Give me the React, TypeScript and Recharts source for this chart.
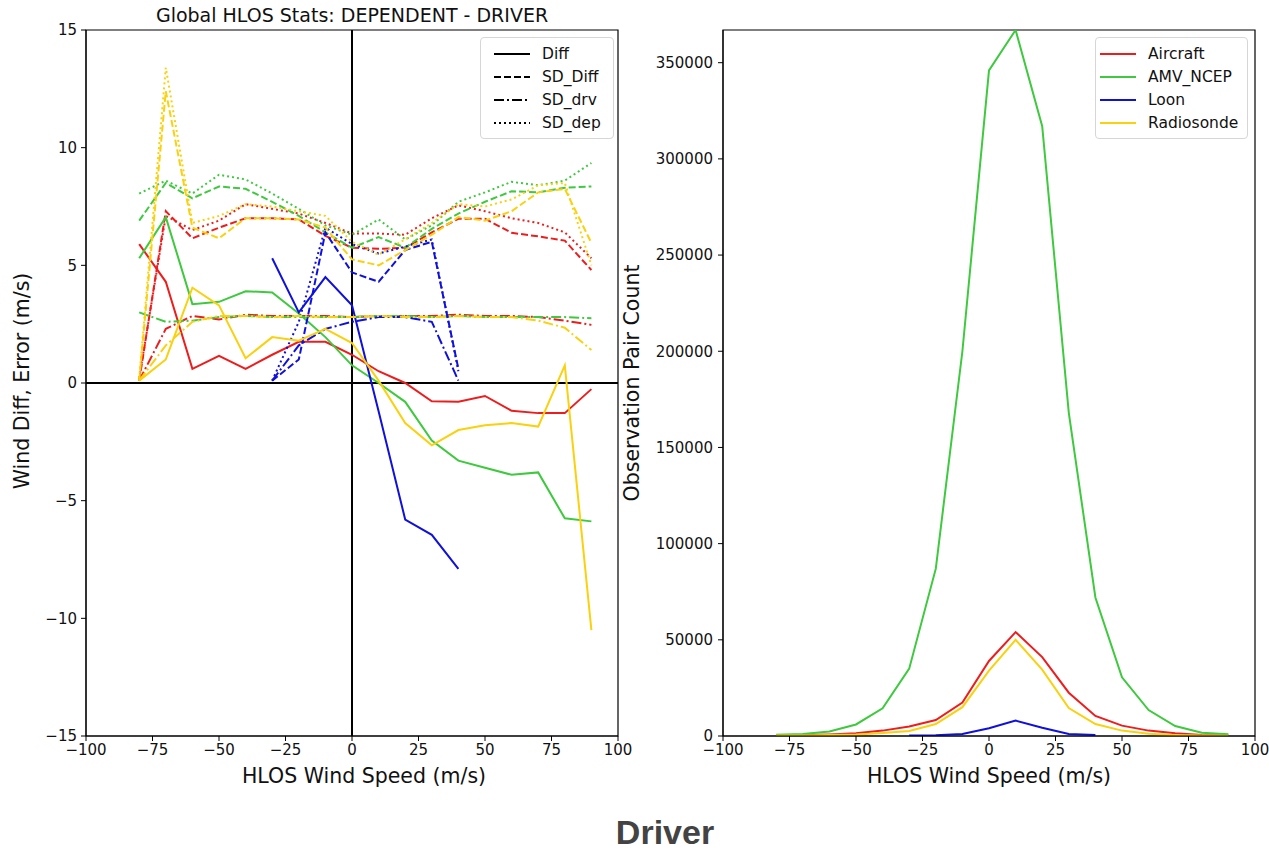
import React from "react";
import {
  LineChart, Line, XAxis, YAxis, ReferenceLine, ReferenceArea,
} from "recharts";

// bins of HLOS wind speed (m/s)
const windBins = [-80, -70, -60, -50, -40, -30, -20, -10, 0, 10, 20, 30, 40, 50, 60, 70, 80, 90];
const loonBins = [-30, -20, -10, 0, 10, 20, 30, 40];

const xTicks = [-100, -75, -50, -25, 0, 25, 50, 75, 100];
const diffTicks = [-15, -10, -5, 0, 5, 10, 15];
const countTicks = [0, 50000, 100000, 150000, 200000, 250000, 300000, 350000];

// Diff (solid)
const aircraftDiff = [5.9, 4.3, 0.6, 1.15, 0.6, 1.2, 1.75, 1.75, 1.2, 0.5, 0.0, -0.78, -0.8, -0.55, -1.18, -1.28, -1.28, -0.26];
const amvDiff = [5.3, 7.05, 3.35, 3.45, 3.9, 3.85, 2.95, 1.95, 0.75, 0.0, -0.8, -2.45, -3.3, -3.6, -3.9, -3.8, -5.75, -5.88];
const loonDiff = [5.3, 3.0, 4.5, 3.3, -1.2, -5.8, -6.45, -7.9];
const raobDiff = [0.1, 1.0, 4.05, 3.3, 1.05, 1.95, 1.8, 2.3, 1.7, 0.1, -1.7, -2.65, -2.0, -1.8, -1.7, -1.85, 0.75, -10.5];

// SD_Diff (dashed)
const aircraftSdDiff = [0.1, 7.3, 6.15, 6.6, 7.0, 7.0, 6.95, 6.25, 5.75, 5.7, 5.75, 6.4, 6.98, 6.98, 6.38, 6.23, 6.05, 4.8];
const amvSdDiff = [6.9, 8.5, 7.85, 8.35, 8.25, 7.7, 7.1, 6.4, 5.75, 6.2, 5.75, 6.55, 7.2, 7.7, 8.15, 8.1, 8.3, 8.35];
const loonSdDiff = [0.1, 1.0, 6.4, 4.7, 4.3, 5.65, 6.0, 0.6];
const raobSdDiff = [0.1, 12.4, 6.6, 6.15, 7.0, 7.0, 6.95, 6.6, 5.25, 5.0, 5.65, 6.3, 7.05, 6.9, 7.3, 8.1, 8.25, 5.95];

// SD_drv (dash-dot)
const aircraftSdDrv = [0.1, 2.3, 2.85, 2.7, 2.9, 2.85, 2.85, 2.85, 2.8, 2.85, 2.85, 2.85, 2.9, 2.85, 2.85, 2.8, 2.65, 2.47];
const amvSdDrv = [3.0, 2.6, 2.65, 2.8, 2.85, 2.8, 2.8, 2.8, 2.8, 2.85, 2.85, 2.8, 2.85, 2.8, 2.8, 2.8, 2.8, 2.75];
const loonSdDrv = [0.1, 1.6, 2.3, 2.6, 2.8, 2.8, 2.6, 0.1];
const raobSdDrv = [0.1, 1.6, 2.6, 2.85, 2.85, 2.8, 2.85, 2.8, 2.8, 2.85, 2.8, 2.8, 2.85, 2.8, 2.8, 2.65, 2.35, 1.4];

// SD_dep (dotted)
const aircraftSdDep = [0.2, 7.1, 6.5, 6.9, 7.6, 7.4, 7.2, 6.8, 6.35, 6.35, 6.3, 7.0, 7.55, 7.3, 7.0, 6.8, 6.4, 5.3];
const amvSdDep = [8.05, 8.6, 8.05, 8.85, 8.65, 8.05, 7.4, 6.7, 6.3, 6.95, 6.1, 6.7, 7.7, 8.1, 8.55, 8.4, 8.6, 9.35];
const loonSdDep = [0.1, 2.6, 6.6, 5.9, 5.5, 5.8, 6.1, 0.5];
const raobSdDep = [0.2, 13.4, 6.8, 7.1, 7.6, 7.5, 7.3, 7.1, 6.0, 5.45, 6.1, 6.8, 7.6, 7.5, 7.8, 8.4, 8.5, 5.0];

// observation pair counts
const aircraftCount = [300, 500, 800, 1400, 2800, 4900, 8300, 17400, 39000, 54000, 41000, 22500, 10400, 5400, 2800, 1400, 500, 300];
const amvCount = [700, 1000, 2300, 6000, 14400, 35000, 87000, 200000, 346000, 367000, 317000, 168000, 72000, 30500, 13500, 5200, 1700, 900];
const loonCount = [300, 400, 1000, 4000, 8000, 4300, 1000, 500];
const raobCount = [200, 300, 500, 800, 1500, 2600, 6200, 15000, 34000, 50000, 34500, 14500, 6200, 2800, 1200, 500, 200, 100];

const RED = "#ee1d1d";
const GREEN = "#3ec93e";
const BLUE = "#1010dd";
const GOLD = "#f9d10e";

const FONT = "'DejaVu Sans', Verdana, sans-serif";

const toRows = (xs: number[], ys: number[]) => xs.map((x, i) => ({ x, y: ys[i] }));

const platforms = [
  { name: "Aircraft", color: RED, xs: windBins, diff: aircraftDiff, sdDiff: aircraftSdDiff, sdDrv: aircraftSdDrv, sdDep: aircraftSdDep, count: aircraftCount },
  { name: "AMV_NCEP", color: GREEN, xs: windBins, diff: amvDiff, sdDiff: amvSdDiff, sdDrv: amvSdDrv, sdDep: amvSdDep, count: amvCount },
  { name: "Loon", color: BLUE, xs: loonBins, diff: loonDiff, sdDiff: loonSdDiff, sdDrv: loonSdDrv, sdDep: loonSdDep, count: loonCount },
  { name: "Radiosonde", color: GOLD, xs: windBins, diff: raobDiff, sdDiff: raobSdDiff, sdDrv: raobSdDrv, sdDep: raobSdDep, count: raobCount },
];

const styles = [
  { key: "diff", label: "Diff", dash: undefined },
  { key: "sdDiff", label: "SD_Diff", dash: "7 3" },
  { key: "sdDrv", label: "SD_drv", dash: "10 3 2 3" },
  { key: "sdDep", label: "SD_dep", dash: "2 3" },
] as const;

const fmt = (v: number) => (v < 0 ? `\u2212${-v}` : `${v}`);
const tick = { fontSize: 15, fill: "#111", fontFamily: FONT };

// absolutely placed text, centred on (x, y)
function Txt({ x, y, rot, style, children }: any) {
  return (
    <div
      style={{
        position: "absolute", left: x, top: y, whiteSpace: "nowrap",
        transform: `translate(-50%, -50%)${rot ? ` rotate(${rot}deg)` : ""}`,
        fontFamily: FONT, fontSize: 20.5, color: "#111", ...style,
      }}
    >
      {children}
    </div>
  );
}

function LegendBox({ left, top, width, items, lineLeft }: any) {
  return (
    <div
      style={{
        position: "absolute", left, top, width, padding: "4px 0",
        border: "1px solid #d6d6d6", borderRadius: 4, background: "rgba(255,255,255,0.85)",
        fontFamily: FONT, fontSize: 15.5, color: "#111",
      }}
    >
      {items.map((it: any) => (
        <div key={it.label} style={{ display: "flex", alignItems: "center", height: 23 }}>
          <svg width={48} height={10} style={{ marginLeft: lineLeft }}>
            <line x1={0} y1={5} x2={36} y2={5} stroke={it.color} strokeWidth={2} strokeDasharray={it.dash} />
          </svg>
          <span>{it.label}</span>
        </div>
      ))}
    </div>
  );
}

export default function App() {
  return (
    <div style={{ position: "absolute", left: 0, top: 0, width: 1269, height: 850, overflow: "hidden", background: "#fff" }}>
      {/* left panel: diff / error statistics */}
      <div style={{ position: "absolute", left: 0, top: 0 }}>
        <LineChart width={632} height={770} margin={{ top: 30, right: 14, left: 0, bottom: 0 }}>
          <XAxis
            type="number" dataKey="x" domain={[-100, 100]} ticks={xTicks} tickFormatter={fmt}
            allowDataOverflow height={34} tick={tick} tickSize={5} tickMargin={3}
            axisLine={{ stroke: "#000" }} tickLine={{ stroke: "#000" }}
          />
          <YAxis
            type="number" dataKey="y" domain={[-15, 15]} ticks={diffTicks} tickFormatter={fmt}
            allowDataOverflow width={86} tick={tick} tickSize={5} tickMargin={4}
            axisLine={{ stroke: "#000" }} tickLine={{ stroke: "#000" }}
          />
          <ReferenceArea x1={-100} x2={100} y1={-15} y2={15} fill="none" stroke="#000" strokeWidth={1.2} />
          <ReferenceLine x={0} stroke="#000" strokeWidth={2} />
          <ReferenceLine y={0} stroke="#000" strokeWidth={2} />
          {platforms.flatMap((p) =>
            styles.map((s) => (
              <Line
                key={`${p.name}-${s.key}`}
                data={toRows(p.xs, (p as any)[s.key])}
                dataKey="y" type="linear" stroke={p.color} strokeWidth={2}
                strokeDasharray={s.dash} dot={false} activeDot={false}
                isAnimationActive={false}
              />
            ))
          )}
        </LineChart>
      </div>

      {/* right panel: observation pair counts */}
      <div style={{ position: "absolute", left: 645, top: 0 }}>
        <LineChart width={624} height={770} margin={{ top: 30, right: 14, left: 0, bottom: 0 }}>
          <XAxis
            type="number" dataKey="x" domain={[-100, 100]} ticks={xTicks} tickFormatter={fmt}
            allowDataOverflow height={34} tick={tick} tickSize={5} tickMargin={3}
            axisLine={{ stroke: "#000" }} tickLine={{ stroke: "#000" }}
          />
          <YAxis
            type="number" dataKey="y" domain={[0, 367000]} ticks={countTicks}
            allowDataOverflow width={78} tick={tick} tickSize={5} tickMargin={5}
            axisLine={{ stroke: "#000" }} tickLine={{ stroke: "#000" }}
          />
          <ReferenceArea x1={-100} x2={100} y1={0} y2={367000} fill="none" stroke="#000" strokeWidth={1.2} />
          {platforms.map((p) => (
            <Line
              key={p.name}
              data={toRows(p.xs, p.count)}
              dataKey="y" type="linear" stroke={p.color} strokeWidth={2}
              dot={false} activeDot={false} isAnimationActive={false}
            />
          ))}
        </LineChart>
      </div>

      <LegendBox
        left={480} top={37} width={132} lineLeft={13}
        items={styles.map((s) => ({ label: s.label, dash: s.dash, color: "#000" }))}
      />
      <LegendBox
        left={1095} top={37} width={151} lineLeft={4}
        items={platforms.map((p) => ({ label: p.name, color: p.color }))}
      />

      <Txt x={352} y={15} style={{ fontSize: 19 }}>Global HLOS Stats: DEPENDENT - DRIVER</Txt>
      <Txt x={364} y={776}>HLOS Wind Speed (m/s)</Txt>
      <Txt x={989} y={776}>HLOS Wind Speed (m/s)</Txt>
      <Txt x={22} y={381} rot={-90}>Wind Diff, Error (m/s)</Txt>
      <Txt x={632} y={383} rot={-90}>Observation Pair Count</Txt>
      <Txt x={665} y={832} style={{ fontFamily: "'Liberation Sans', Arial, sans-serif", fontWeight: 700, fontSize: 34, color: "#434343" }}>
        Driver
      </Txt>
    </div>
  );
}
